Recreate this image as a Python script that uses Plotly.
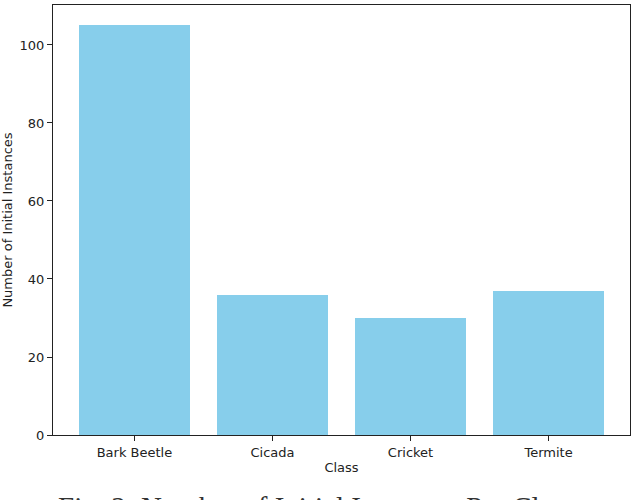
import plotly.graph_objects as go

# Class counts
classes = ["Bark Beetle", "Cicada", "Cricket", "Termite"]
counts = [105, 36, 30, 37]
y_ticks = [0, 20, 40, 60, 80, 100]

caption = "Fig. 2: Number of Initial Instances Per Class"

W, H = 632, 500
L, R, T, B = 53, 2, 5, 65
plot_w = W - L - R
plot_h = H - T - B

fig = go.Figure()
fig.add_trace(go.Bar(
    x=list(range(len(classes))), y=counts,
    width=0.8, marker=dict(color="#87ceeb", line=dict(width=0)),
    showlegend=False,
))

axis_font = dict(family="DejaVu Sans", size=13, color="#222")
fig.update_xaxes(
    range=[-0.59, len(classes) - 1 + 0.59],
    tickvals=list(range(len(classes))), ticktext=classes,
    ticks="outside", ticklen=5, tickcolor="#222",
    showline=True, linecolor="#222", linewidth=1, mirror=True,
    showgrid=False, zeroline=False, tickfont=axis_font, automargin=False,
    title=dict(text="Class", font=axis_font, standoff=4),
)
fig.update_yaxes(
    range=[0, max(counts) * 1.05],
    tickvals=y_ticks,
    ticks="outside", ticklen=5, tickcolor="#222",
    showline=True, linecolor="#222", linewidth=1, mirror=True,
    showgrid=False, zeroline=False, tickfont=axis_font, automargin=False,
    title=dict(text="Number of Initial Instances", font=axis_font, standoff=6),
)

# figure caption, mostly cut off by the bottom edge like in the source
fig.add_annotation(
    text=caption, xref="paper", yref="paper",
    x=(W / 2 - L) / plot_w, y=-(489 - (H - B)) / plot_h,
    xanchor="center", yanchor="top", showarrow=False,
    font=dict(family="Liberation Serif", size=29, color="#333"),
)

fig.update_layout(
    width=W, height=H,
    margin=dict(l=L, r=R, t=T, b=B, autoexpand=False),
    plot_bgcolor="white", paper_bgcolor="white",
    bargap=0,
)

# drop the default page margin so the figure sits at the window's corner
fig.write_html("out.html", config={"displayModeBar": False},
               post_script="document.body.style.margin='0';")
